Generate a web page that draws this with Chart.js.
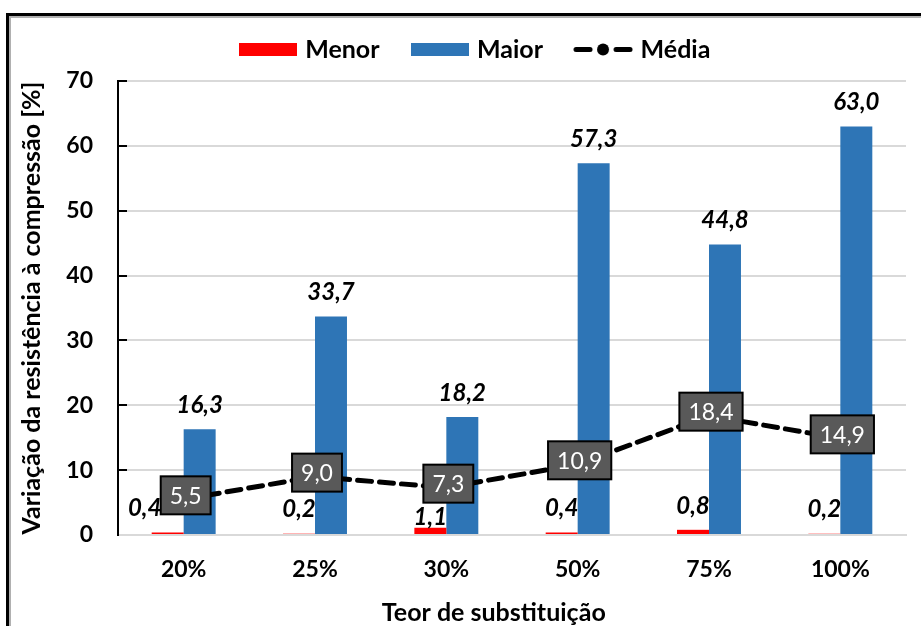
<!DOCTYPE html>
<html>
<head>
<meta charset="utf-8">
<script src="https://cdn.jsdelivr.net/npm/chart.js@4"></script>
<style>
  html, body { margin: 0; padding: 0; background: #fff; }
  #wrap { position: relative; width: 921px; height: 626px; overflow: hidden; }
  #frame { position: absolute; left: 6px; top: 13px; width: 1000px; height: 700px;
           border: 3px solid #000; box-shadow: inset 2px 2px 0 #b0b0b0; }
  #chart { position: absolute; left: 0; top: 0; }
</style>
</head>
<body>
<div id="wrap">
  <div id="frame"></div>
  <canvas id="chart" width="921" height="626"></canvas>
</div>
<script>
// ---- data ----
const categories = ['20%', '25%', '30%', '50%', '75%', '100%'];
const menor = [0.4, 0.2, 1.1, 0.4, 0.8, 0.2];
const maior = [16.3, 33.7, 18.2, 57.3, 44.8, 63.0];
const media = [5.5, 9.0, 7.3, 10.9, 18.4, 14.9];
const yMin = 0, yMax = 70, yStep = 10;

const FONT = 'Lato, "Open Sans", sans-serif';
const RED = '#ff0000';
const BLUE = '#2e75b6';

const fmt = v => v.toFixed(1).replace('.', ',');

// legend swatches drawn on small canvases
function swatch(color) {
    const c = document.createElement('canvas');
    c.width = 58; c.height = 13;
    const g = c.getContext('2d');
    g.fillStyle = color;
    g.fillRect(0, 0, 58, 13);
    return c;
}
function lineSwatch() {
    const c = document.createElement('canvas');
    c.width = 60; c.height = 13;
    const g = c.getContext('2d');
    g.strokeStyle = '#000';
    g.lineWidth = 5;
    g.lineCap = 'round';
    g.beginPath();
    g.moveTo(3, 6.5); g.lineTo(17, 6.5);
    g.moveTo(43, 6.5); g.lineTo(57, 6.5);
    g.stroke();
    g.fillStyle = '#000';
    g.beginPath();
    g.arc(30, 6.5, 6, 0, Math.PI * 2);
    g.fill();
    return c;
}
const legendStyles = [swatch(RED), swatch(BLUE), lineSwatch()];

// more room under the legend, and legend nudged right like the original
const legendTweak = {
    id: 'legendTweak',
    afterInit(chart) {
        const legend = chart.legend;
        const fit = legend.fit;
        legend.fit = function () {
            fit.call(this);
            this.height += 9;
        };
        const draw = legend.draw;
        legend.draw = function () {
            this.ctx.save();
            this.ctx.translate(16, 0);
            draw.call(this);
            this.ctx.restore();
        };
    }
};

// value labels (bars: italic bold above; line: dark boxes)
const valueLabels = {
    id: 'valueLabels',
    afterDatasetsDraw(chart) {
        const ctx = chart.ctx;
        ctx.save();
        ctx.textAlign = 'center';
        ctx.textBaseline = 'middle';

        [0, 1].forEach(di => {
            const meta = chart.getDatasetMeta(di);
            const data = chart.data.datasets[di].data;
            ctx.font = 'italic bold 24px ' + FONT;
            ctx.fillStyle = '#000';
            meta.data.forEach((el, i) => {
                let x = el.x, dy = 24;
                if (di === 0 && i === 0) x -= 23;  // pushed left of the 5,5 box
                if (di === 0 && i === 2) dy = 11;  // sits under the 7,3 box
                ctx.fillText(fmt(data[i]), x, el.y - dy);
            });
        });

        const meta = chart.getDatasetMeta(2);
        const data = chart.data.datasets[2].data;
        ctx.font = '23px ' + FONT;
        meta.data.forEach((el, i) => {
            const txt = fmt(data[i]);
            const w = ctx.measureText(txt).width + 18;
            const h = 38;
            const cx = el.x + 2, cy = el.y - 4;
            ctx.fillStyle = '#595959';
            ctx.fillRect(cx - w / 2, cy - h / 2, w, h);
            ctx.strokeStyle = '#000';
            ctx.lineWidth = 2;
            ctx.strokeRect(cx - w / 2, cy - h / 2, w, h);
            ctx.fillStyle = '#fff';
            ctx.fillText(txt, cx, cy + 1);
        });
        ctx.restore();
    }
};

new Chart(document.getElementById('chart'), {
    data: {
        labels: categories,
        datasets: [
            {
                type: 'bar', label: 'Menor', data: menor,
                backgroundColor: RED, order: 1,
                categoryPercentage: 0.487, barPercentage: 1
            },
            {
                type: 'bar', label: 'Maior', data: maior,
                backgroundColor: BLUE, order: 1,
                categoryPercentage: 0.487, barPercentage: 1
            },
            {
                type: 'line', label: 'Média', data: media,
                borderColor: '#000', borderWidth: 5, borderDash: [14, 8],
                borderCapStyle: 'round',
                pointRadius: 4, pointBackgroundColor: '#000', pointBorderColor: '#000',
                fill: false, tension: 0, order: 0
            }
        ]
    },
    options: {
        responsive: false,
        animation: false,
        layout: { padding: { left: 15, right: 15, top: 2, bottom: 0 } },
        plugins: {
            tooltip: { enabled: false },
            legend: {
                position: 'top',
                labels: {
                    usePointStyle: true,
                    pointStyleWidth: 50,
                    padding: 35,
                    color: '#000',
                    font: { family: FONT, size: 25, weight: 'bold' },
                    generateLabels: chart => chart.data.datasets.map((ds, i) => ({
                        text: ds.label,
                        pointStyle: legendStyles[i],
                        fillStyle: 'transparent',
                        strokeStyle: 'transparent',
                        lineWidth: 0,
                        fontColor: '#000',
                        datasetIndex: i,
                        hidden: false
                    }))
                }
            }
        },
        scales: {
            x: {
                afterFit: s => { s.height = 91; },
                grid: { display: false, drawTicks: false },
                border: { color: '#d9d9d9', width: 2 },
                ticks: { color: '#000', padding: 21, font: { family: FONT, size: 23, weight: 'bold' } },
                title: {
                    display: true,
                    text: 'Teor de substituição      ',
                    color: '#000',
                    padding: { top: 0, bottom: -2 },
                    font: { family: FONT, size: 25, weight: 'bold' }
                }
            },
            y: {
                afterFit: s => { s.width = 103; },
                min: yMin, max: yMax,
                grid: { color: '#d9d9d9', lineWidth: 2, tickLength: -9, tickColor: '#000', tickWidth: 2 },
                border: { color: '#000', width: 2 },
                ticks: { stepSize: yStep, color: '#000', padding: 34, font: { family: FONT, size: 23, weight: 'bold' } },
                title: {
                    display: true,
                    text: 'Variação da resistência à compressão [%]',
                    color: '#000',
                    padding: { top: 2, bottom: 0 },
                    font: { family: FONT, size: 25, weight: 'bold' }
                }
            }
        }
    },
    plugins: [legendTweak, valueLabels]
});
</script>
</body>
</html>
